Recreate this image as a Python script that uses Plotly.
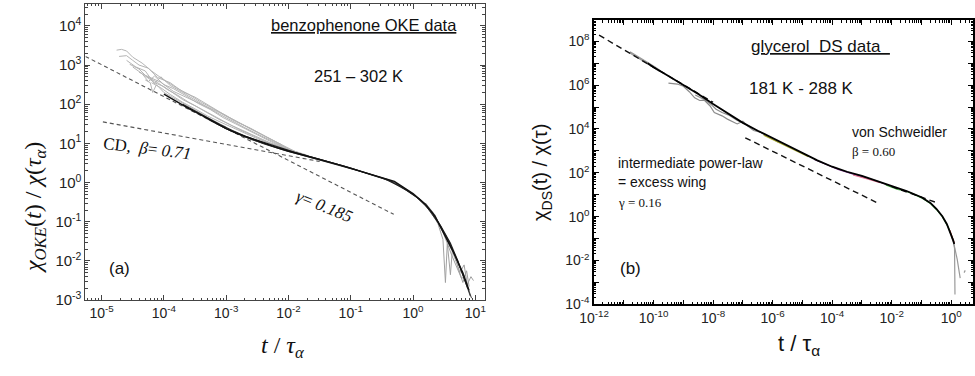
import numpy as np
import plotly.graph_objects as go

# ---------------- data (log10 values) ----------------
# Panel (a): benzophenone OKE data
a_black1_lt = [-4.0,-3.8,-3.6,-3.4,-3.2,-3.0,-2.8,-2.6,-2.4,-2.2,-2.0,-1.8,-1.5,-1.2,-0.9,-0.6,-0.3,0.0,0.2,0.35,0.5,0.65,0.8,0.9]
a_black1_ly = [2.26,2.07,1.89,1.72,1.54,1.38,1.24,1.12,1.01,0.90,0.80,0.72,0.59,0.46,0.32,0.17,0.03,-0.28,-0.55,-0.85,-1.30,-1.78,-2.30,-2.75]
a_black2_lt = [-3.7,-3.5,-3.3,-3.1,-2.9,-2.7,-2.5,-2.3,-2.1,-1.9,-1.6,-1.3,-1.0,-0.7,-0.4,-0.1,0.1,0.3,0.45,0.6,0.72,0.82,0.88]
a_black2_ly = [2.00,1.82,1.65,1.48,1.33,1.19,1.08,0.97,0.86,0.77,0.64,0.51,0.37,0.22,0.07,-0.20,-0.42,-0.75,-1.12,-1.55,-2.0,-2.45,-2.7]
a_black3_lt = [-3.3,-3.0,-2.7,-2.4,-2.1,-1.8,-1.5,-1.2,-0.9,-0.6,-0.3,0.0,0.2,0.4,0.55,0.7,0.8,0.92]
a_black3_ly = [1.62,1.37,1.17,0.99,0.84,0.71,0.58,0.45,0.31,0.16,0.01,-0.30,-0.58,-1.02,-1.45,-1.95,-2.35,-2.9]
a_black4_lt = [-2.9,-2.6,-2.3,-2.0,-1.7,-1.4,-1.1,-0.8,-0.5,-0.2,0.05,0.25,0.42,0.58,0.72,0.84,0.94]
a_black4_ly = [1.30,1.10,0.95,0.81,0.69,0.55,0.42,0.27,0.12,-0.10,-0.36,-0.66,-1.05,-1.50,-2.02,-2.50,-2.95]

a_gray_lt = [
    [-4.76,-4.68,-4.6,-4.5,-4.35,-4.2,-4.0,-3.8,-3.6,-3.4,-3.2,-3.0,-2.8,-2.6,-2.4,-2.2,-2.0,-1.8],
    [-4.72,-4.6,-4.5,-4.4,-4.25,-4.1,-3.9,-3.7,-3.5,-3.3,-3.1,-2.9,-2.7,-2.5,-2.3,-2.1,-1.9,-1.7],
    [-4.6,-4.45,-4.3,-4.15,-4.05,-3.9,-3.7,-3.5,-3.3,-3.1,-2.9,-2.7,-2.5,-2.3,-2.1,-1.9],
    [-4.5,-4.35,-4.25,-4.15,-4.0,-3.85,-3.65,-3.45,-3.25,-3.05,-2.85,-2.65,-2.45,-2.25,-2.05,-1.85],
    [-4.4,-4.25,-4.1,-3.95,-3.8,-3.6,-3.4,-3.2,-3.0,-2.8,-2.6,-2.4,-2.2,-2.0,-1.8],
    [-4.3,-4.15,-4.0,-3.85,-3.7,-3.5,-3.3,-3.1,-2.9,-2.7,-2.5,-2.3,-2.1,-1.9],
    [-4.2,-4.05,-3.9,-3.7,-3.5,-3.3,-3.1,-2.9,-2.7,-2.5,-2.3,-2.1,-1.9],
    [-4.3,-4.22,-4.18,-4.12,-4.0,-3.8,-3.6,-3.4,-3.2,-3.0],
    [-4.55,-4.4,-4.3,-4.2,-4.05,-3.85,-3.6,-3.35,-3.1,-2.85,-2.6,-2.35,-2.1],
]
a_gray_ly = [
    [3.38,3.40,3.36,3.20,3.05,2.85,2.62,2.42,2.25,2.05,1.88,1.70,1.52,1.36,1.20,1.02,0.86,0.74],
    [3.22,3.24,3.12,3.00,2.92,2.68,2.55,2.32,2.18,1.98,1.80,1.62,1.45,1.30,1.12,0.96,0.80,0.70],
    [3.12,2.95,2.85,2.52,2.70,2.48,2.30,2.10,1.92,1.74,1.56,1.40,1.24,1.08,0.93,0.79],
    [2.95,2.78,2.58,2.72,2.50,2.40,2.22,2.02,1.86,1.66,1.50,1.34,1.17,1.02,0.88,0.76],
    [2.82,2.68,2.55,2.38,2.25,2.05,1.88,1.70,1.52,1.36,1.22,1.07,0.95,0.82,0.73],
    [2.72,2.55,2.45,2.28,2.12,1.96,1.78,1.60,1.45,1.30,1.15,1.02,0.90,0.78],
    [2.55,2.42,2.25,2.05,1.88,1.70,1.55,1.40,1.26,1.12,1.00,0.88,0.78],
    [2.62,2.55,2.30,2.50,2.30,2.12,1.93,1.75,1.58,1.42],
    [3.02,2.90,2.74,2.66,2.56,2.33,2.14,1.96,1.78,1.56,1.38,1.16,0.96],
]
a_tail_lt = [
    [0.1,0.25,0.4,0.48,0.52,0.55,0.62,0.7,0.78,0.85],
    [0.2,0.35,0.45,0.55,0.6,0.63,0.7,0.8,0.86,0.9],
    [0.3,0.45,0.58,0.68,0.75,0.82,0.87,0.93,0.97],
]
a_tail_ly = [
    [-0.40,-0.65,-1.05,-1.45,-2.55,-1.55,-1.85,-2.15,-2.45,-2.35],
    [-0.52,-0.82,-1.15,-1.55,-2.35,-1.75,-2.05,-2.55,-2.25,-2.65],
    [-0.72,-1.12,-1.60,-1.90,-2.30,-2.10,-2.60,-2.40,-2.50],
]
a_fit_steep_lt = [-5.26, -0.31]
a_fit_steep_ly = [3.22, -0.81]
a_fit_cd_lt = [-4.98, -1.5]
a_fit_cd_ly = [1.55, 0.54]

# Panel (b): glycerol DS data
b_main_lt = [-10.2,-10.0,-9.5,-9.0,-8.5,-8.0,-7.5,-7.0,-6.5,-6.0,-5.5,-5.0,-4.5,-4.0,-3.5,-3.0,-2.5,-2.0,-1.5,-1.0,-0.7,-0.5,-0.3,-0.15,0.0,0.07,0.1]
b_main_ly = [7.0,6.82,6.42,6.02,5.60,5.14,4.71,4.28,3.92,3.58,3.25,2.92,2.57,2.28,2.05,1.86,1.63,1.40,1.17,0.89,0.63,0.36,0.02,-0.33,-0.82,-1.10,-1.25]
b_start_lt = [-10.8,-10.6,-10.4,-10.2,-10.0,-9.8]
b_start_ly = [7.50,7.34,7.18,7.00,6.84,6.66]
b_gray_lt = [
    [-9.5,-9.2,-9.0,-8.8,-8.62,-8.45,-8.3,-8.1,-7.96,-7.7,-7.52,-7.3,-7.19,-7.0,-6.85,-6.64,-6.42,-6.1,-5.8],
    [-8.6,-8.3,-8.05,-7.9,-7.7,-7.45,-7.2,-6.9,-6.6,-6.3,-6.0],
]
b_gray_ly = [
    [6.09,6.05,5.95,5.70,5.42,5.30,5.32,5.05,4.75,4.60,4.45,4.30,4.23,4.35,4.15,3.93,3.86,3.62,3.40],
    [5.55,5.35,5.10,4.90,4.75,4.62,4.40,4.22,3.98,3.78,3.56],
]
b_tail_lt = [[0.0,0.08,0.11,0.12,0.125], [0.05,0.12,0.2,0.27,0.3], [0.43,0.47]]
b_tail_ly = [[-0.85,-1.2,-1.45,-2.5,-3.55], [-1.0,-1.4,-1.95,-2.55,-2.8], [-2.55,-2.45]]
b_color_names = ["#a8a830", "#7a2a8a", "#e07090", "#3aa83a", "#d04040"]
b_color_lt = [
    [-6.3,-6.0,-5.7,-5.4,-5.1,-4.8],
    [-4.6,-4.2,-3.8,-3.4,-3.0,-2.6,-2.2],
    [-3.3,-3.0,-2.7,-2.4],
    [-2.2,-2.0,-1.8,-1.6,-1.3,-1.0,-0.7,-0.5,-0.3,-0.1,0.05],
    [-0.05,0.05,0.1],
]
b_color_ly = [
    [3.72,3.52,3.33,3.14,2.95,2.74],
    [2.61,2.37,2.16,1.99,1.84,1.66,1.48],
    [1.90,1.80,1.68,1.55],
    [1.45,1.33,1.24,1.20,1.05,0.86,0.60,0.33,0.0,-0.48,-1.0],
    [-0.62,-1.05,-1.2],
]
b_fit1_lt = [-11.83, -8.0]
b_fit1_ly = [8.28, 5.22]
b_fit2_lt = [-6.92, -2.41]
b_fit2_ly = [3.60, 0.585]
b_fit3_lt = [-2.0, -0.55]
b_fit3_ly = [1.37, 0.67]

a_xticks = [-5, -4, -3, -2, -1, 0, 1]
a_yticks = [-3, -2, -1, 0, 1, 2, 3, 4]
b_xticks = list(range(-12, 1))
b_yticks = list(range(-4, 9))


def p10(v):
    return np.power(10.0, np.asarray(v, dtype=float))


W, H = 975, 376
SANS = "Liberation Sans, Arial, sans-serif"
SERIF = "Liberation Serif, Times New Roman, serif"

fig = go.Figure()


def add(lt, ly, color, width, xa="x", ya="y", dash=None):
    fig.add_trace(go.Scatter(x=p10(lt), y=p10(ly), mode="lines",
                             line=dict(color=color, width=width, dash=dash),
                             xaxis=xa, yaxis=ya, showlegend=False, hoverinfo="skip"))

# panel (a)
for lt, ly in zip(a_gray_lt, a_gray_ly):
    add(lt, ly, "#b4b4b4", 1)
for lt, ly in zip(a_tail_lt, a_tail_ly):
    add(lt, ly, "#a0a0a0", 1)
add(a_fit_steep_lt, a_fit_steep_ly, "#555555", 1.1, dash="4px,3px")
add(a_fit_cd_lt, a_fit_cd_ly, "#555555", 1.1, dash="4px,3px")
add(a_black4_lt, a_black4_ly, "#444444", 1)
add(a_black3_lt, a_black3_ly, "#333333", 1)
add(a_black2_lt, a_black2_ly, "#222222", 1.2)
add(a_black1_lt, a_black1_ly, "#111111", 1.4)

# panel (b)
add(b_start_lt, b_start_ly, "#9a9a9a", 2.5, "x2", "y2")
for lt, ly in zip(b_gray_lt, b_gray_ly):
    add(lt, ly, "#8c8c8c", 1.2, "x2", "y2")
for lt, ly in zip(b_tail_lt, b_tail_ly):
    add(lt, ly, "#999999", 1.2, "x2", "y2")
for c, lt, ly in zip(b_color_names, b_color_lt, b_color_ly):
    add(lt, ly, c, 1.2, "x2", "y2")
add(b_fit1_lt, b_fit1_ly, "#111111", 1.4, "x2", "y2", dash="6px,4px")
add(b_fit2_lt, b_fit2_ly, "#111111", 1.4, "x2", "y2", dash="6px,4px")
add(b_fit3_lt, b_fit3_ly, "#111111", 1.4, "x2", "y2", dash="6px,4px")
add(b_main_lt, b_main_ly, "#000000", 1.8, "x2", "y2")


def sup(e):
    return "10<sup>%d</sup>" % e


def axis(dom, rng, ticks, labels, size, color, lw, tl):
    return dict(type="log", domain=dom, range=rng, tickmode="array",
                tickvals=list(p10(ticks)), ticktext=labels,
                ticks="inside", ticklen=tl, tickwidth=1, tickcolor=color,
                showline=True, linecolor=color, linewidth=lw, mirror="allticks",
                showgrid=False, zeroline=False,
                tickfont=dict(family=SANS, size=size, color="#222"),
                minor=dict(ticks="inside", ticklen=2.5, tickcolor=color, dtick="D1", showgrid=False))


fig.update_layout(
    width=W, height=H, margin=dict(l=0, r=0, t=0, b=0), autosize=False,
    paper_bgcolor="white", plot_bgcolor="white",
    xaxis=axis([71.7 / W, 478 / W], [-5.26, 1.15], a_xticks, [sup(e) for e in a_xticks], 14, "#444", 1, 5),
    yaxis=axis([1 - 306.7 / H, 1 - 4 / H], [-3, 4.56], a_yticks, [sup(e) for e in a_yticks], 15, "#444", 1, 5),
    xaxis2=axis([589.3 / W, 1.0], [-12, 0.73], b_xticks,
                [sup(e) if e % 2 == 0 else "" for e in b_xticks], 14, "#000", 1.5, 5),
    yaxis2=axis([1 - 311 / H, 1 - 20.7 / H], [-4, 8.96], b_yticks,
                [sup(e) if e % 2 == 0 else "" for e in b_yticks], 14, "#000", 1.5, 5),
)
fig.layout.xaxis.anchor = "y"
fig.layout.yaxis.anchor = "x"
fig.layout.xaxis2.anchor = "y2"
fig.layout.yaxis2.anchor = "x2"


def ann(text, px, py, size, family=SANS, angle=0, xanchor="center", color="#111"):
    fig.add_annotation(text=text, x=px / W, y=1 - py / H, xref="paper", yref="paper",
                       showarrow=False, xanchor=xanchor, yanchor="middle", textangle=angle,
                       font=dict(family=family, size=size, color=color))

# axis titles
ann("<i>χ<sub>OKE</sub></i>(<i>t</i>) / <i>χ</i>(<i>τ<sub>α</sub></i>)", 21, 212, 24, SERIF, -90)
ann("<i>t</i> / <i>τ<sub>α</sub></i>", 273, 355, 24, SERIF)
ann("χ<sub>DS</sub>(t) / χ(τ)", 536, 176, 20, SANS, -90)
ann("t / τ<sub>α</sub>", 798, 352, 22, SANS)

# panel (a) labels
ann("<u>benzophenone OKE data</u>", 355, 26, 16.5)
ann("251 – 302 K", 350, 78, 16.5)
ann("CD,  <i>β</i>= <i>0.71</i>", 134, 152, 17, SERIF, 7)
ann("<i>γ</i>= <i>0.185</i>", 315, 211, 17, SERIF, 22)
ann("(a)", 106, 274, 17)

# panel (b) labels
ann("<u>glycerol  DS data  </u>", 820, 47, 17)
ann("181 K - 288 K", 800, 90, 17)
ann("von Schweidler", 850, 135, 14, xanchor="left")
ann("β = 0.60", 850, 155, 13, SERIF, xanchor="left")
ann("intermediate power-law", 612, 167, 14, xanchor="left")
ann("= excess wing", 612, 186, 14, xanchor="left")
ann("γ = 0.16", 612, 207, 13, SERIF, xanchor="left")
ann("(b)", 626, 274, 17)

fig.write_html("out.html")
